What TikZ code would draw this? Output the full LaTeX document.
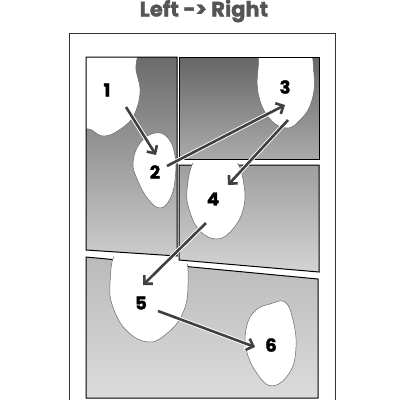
\documentclass[tikz,border=0pt]{standalone}
\usepackage{fontspec}
\setmainfont{Poppins}[BoldFeatures={FakeBold=1.6}]
\usetikzlibrary{arrows.meta}
\definecolor{arrowgray}{HTML}{404040}
\definecolor{titlegray}{HTML}{555555}
\tikzset{
  panelborder/.style={draw=black,line width=1pt},
  blob/.style={fill=white,draw=gray!80!black,line width=0.5pt},
  numlabel/.style={font=\bfseries\fontsize{18}{18}\selectfont,text=black,inner sep=0pt},
  readarrow/.style={draw=arrowgray,line width=2.6pt,
    -{Straight Barb[length=6pt,width=12pt,line width=2.6pt]},
    preaction={draw=white,line width=4.4pt,-{Straight Barb[length=6pt,width=12pt,line width=4.4pt]}}}
}
\begin{document}
\begin{tikzpicture}[x=1pt,y=-1pt]
\useasboundingbox (0,0) rectangle (400,400);
\fill[white] (0,0) rectangle (400,400);
% title
\node[font=\bfseries\fontsize{21}{21}\selectfont,text=titlegray] (title) at (204,11) {Left -> Right};
% page
\draw[line width=0.9pt,draw=black!80] (69,33) -- (335,33) -- (335,405) (69,33) -- (69,405);
% panel shading
\shade[top color=black!58,bottom color=black!20] (86,57) -- (177,57) -- (177,256) -- (86,250) -- cycle;
\shade[shading angle=20,top color=black!60,bottom color=black!33] (179,57) -- (319,57) -- (319,159) -- (179,159) -- cycle;
\shade[shading angle=30,top color=black!38,bottom color=black!17] (179,165) -- (319,165) -- (319,272) -- (179,260) -- cycle;
\shade[shading angle=20,top color=black!27,bottom color=black!14] (86,257) -- (318,279) -- (318,398) -- (86,398) -- cycle;
% blobs
\begin{scope}
\clip (86,57) -- (177,57) -- (177,256) -- (86,250) -- cycle;
\draw[blob] plot[smooth cycle,tension=0.7] coordinates {(80,45) (132,45) (136,70) (140,92) (134,115) (122,128) (105,136) (92,130) (80,118)};
\end{scope}
\begin{scope}
\clip (179,57) -- (319,57) -- (319,159) -- (179,159) -- cycle;
\draw[blob] plot[smooth cycle,tension=0.7] coordinates {(265,45) (305,45) (314,75) (311,103) (299,121) (286,128) (270,119) (259,97) (258,70)};
\end{scope}
\draw[panelborder] (86,57) -- (177,57) -- (177,256) -- (86,250) -- cycle;
\draw[panelborder] (179,57) -- (319,57) -- (319,159) -- (179,159) -- cycle;
\draw[panelborder] (179,165) -- (319,165) -- (319,272) -- (179,260) -- cycle;
\draw[panelborder] (86,257) -- (318,279) -- (318,398) -- (86,398) -- cycle;
\draw[blob] plot[smooth cycle,tension=0.7] coordinates {(155,133) (168,138) (175,156) (175,180) (170,199) (160,208) (148,199) (138,181) (133,163) (140,143)};
\begin{scope}
\clip (179,163) -- (319,163) -- (319,272) -- (179,260) -- cycle;
\draw[blob] plot[smooth cycle,tension=0.7] coordinates {(195,160) (215,157) (235,160) (244,185) (243,210) (232,230) (217,239) (200,231) (190,212) (187,190)};
\end{scope}
\begin{scope}
\clip (86,254) -- (318,276) -- (318,398) -- (86,398) -- cycle;
\draw[blob] plot[smooth cycle,tension=0.7] coordinates {(118,250) (150,245) (182,252) (188,285) (182,315) (165,335) (148,342) (128,332) (114,310) (110,284)};
\end{scope}
\draw[blob] plot[smooth cycle,tension=0.7] coordinates {(270,304) (285,302) (293,320) (296,347) (290,372) (272,386) (256,372) (246,348) (247,325) (256,310)};
% labels
\node[numlabel] (n1) at (107,90) {1};
\node[numlabel] (n2) at (155,172) {2};
\node[numlabel] (n3) at (285,87) {3};
\node[numlabel] (n4) at (213,199) {4};
\node[numlabel] (n5) at (141,303) {5};
\node[numlabel] (n6) at (271,345) {6};
% arrow endpoints
\coordinate (a1s) at (126,107); \coordinate (a1e) at (156,155);
\coordinate (a2s) at (167,166); \coordinate (a2e) at (285,105);
\coordinate (a3s) at (288,120); \coordinate (a3e) at (228,185);
\coordinate (a4s) at (206,223); \coordinate (a4e) at (143,285);
\coordinate (a5s) at (158,311); \coordinate (a5e) at (255,347);
\draw[readarrow] (a1s) -- (a1e);
\draw[readarrow] (a2s) -- (a2e);
\draw[readarrow] (a3s) -- (a3e);
\draw[readarrow] (a4s) -- (a4e);
\draw[readarrow] (a5s) -- (a5e);
\end{tikzpicture}
\end{document}
